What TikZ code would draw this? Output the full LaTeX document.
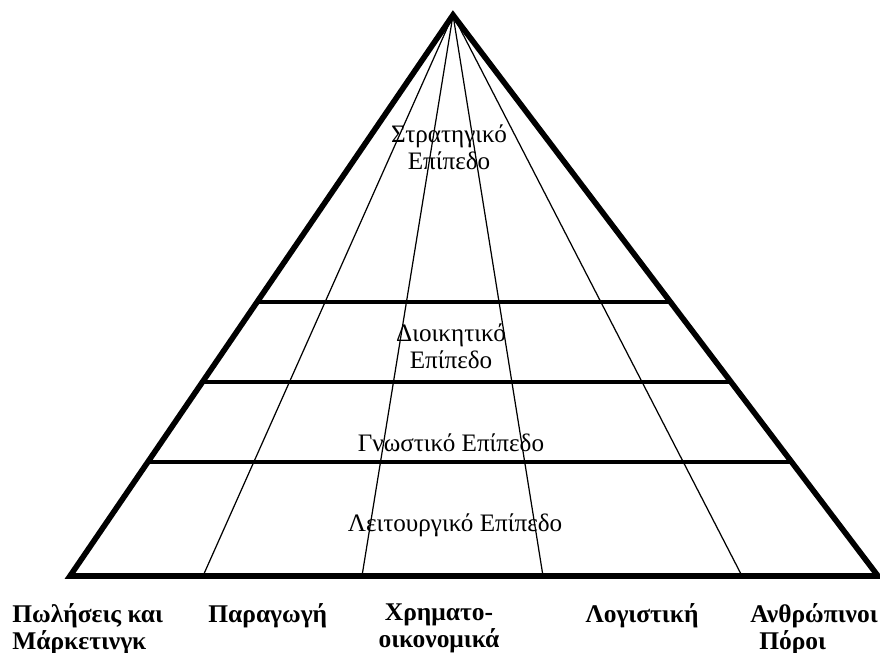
\documentclass[tikz,border=0pt]{standalone}
\usepackage{fontspec}
\setmainfont{Liberation Serif}
\usepackage{tikz}
\usetikzlibrary{positioning,calc}

\tikzset{
  edge/.style={line width=3.2pt, line join=miter},
  band/.style={line width=2.2pt},
  divider/.style={line width=0.7pt},
  level/.style={align=center, font=\fontsize{14.3}{15.4}\selectfont},
  dept/.style={inner sep=0pt, font=\fontsize{14.5}{15.6}\selectfont\bfseries}
}

\begin{document}
\begin{tikzpicture}[x=0.02cm, y=-0.02cm]
        \useasboundingbox (0,0) rectangle (880,653);
        \coordinate (top) at (453,15);
        \coordinate (bl) at (70,576);
        \coordinate (br) at (878,576);
        \foreach \x/\n in {203/d1, 362/d2, 543/d3, 742/d4}
          \coordinate (\n) at (\x,576);

        % vertical dividers
        \foreach \n in {d1,d2,d3,d4}
          \draw[divider] (top) -- (\n);

        % level bands
        \foreach \t/\n in {0.512/b1, 0.654/b2, 0.797/b3}
          \draw[band] ($(top)!\t!(bl)$) coordinate (\n l) -- ($(top)!\t!(br)$) coordinate (\n r);

        \draw[edge] (bl) -- (top) -- (br) -- cycle;

        \node (strat) [level] at (449,147) {Στρατηγικό\\Επίπεδο};
        \node (dioik) [level] at (451,346) {Διοικητικό\\Επίπεδο};
        \node (gnost) [level] at (451,443) {Γνωστικό Επίπεδο};
        \node (leit) [level] at (455,525) {Λειτουργικό Επίπεδο};

        \node (sales) [dept, align=left, anchor=north west] at (12,603) {Πωλήσεις και\\Μάρκετινγκ};
        \node (prod) [dept, anchor=north west] at (208,603) {Παραγωγή};
        \node (fin) [dept, align=center, anchor=north] at (439,603) {Χρηματο-\\οικονομικά};
        \node (acc) [dept, anchor=north] at (642,603) {Λογιστική};
        \node (hr) [dept, align=left, anchor=north west] at (750,603) {Ανθρώπινοι\\\hspace*{0.35em}Πόροι};
      \end{tikzpicture}
\end{document}
